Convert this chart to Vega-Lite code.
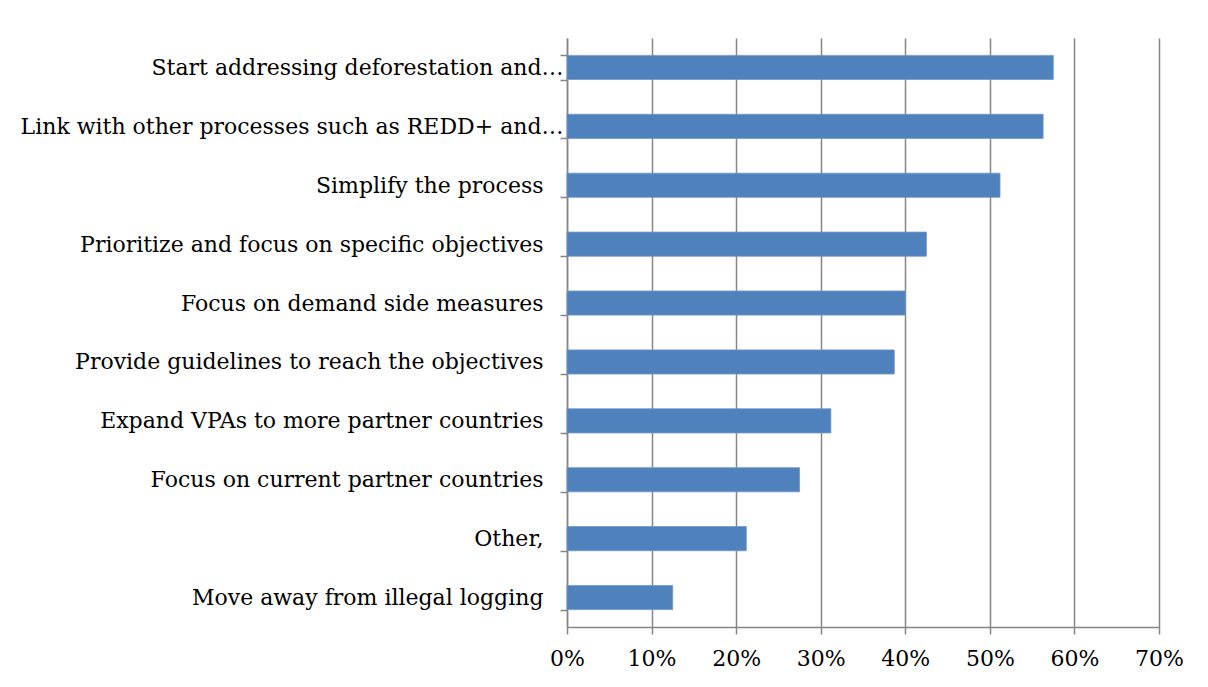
{
  "$schema": "https://vega.github.io/schema/vega-lite/v6.json",
  "width": 592,
  "height": 589,
  "autosize": {"type": "none"},
  "padding": {"left": 567, "top": 38, "right": 49, "bottom": 60},
  "background": "white",
  "config": {
    "view": {"stroke": null},
    "font": "DejaVu Serif"
  },
  "data": {
    "values": [
      {"item": "Start addressing deforestation and…", "share": 0.575},
      {"item": "Link with other processes such as REDD+ and…", "share": 0.563},
      {"item": "Simplify the process", "share": 0.512},
      {"item": "Prioritize and focus on specific objectives", "share": 0.425},
      {"item": "Focus on demand side measures", "share": 0.40},
      {"item": "Provide guidelines to reach the objectives", "share": 0.387},
      {"item": "Expand VPAs to more partner countries", "share": 0.312},
      {"item": "Focus on current partner countries", "share": 0.275},
      {"item": "Other,", "share": 0.212},
      {"item": "Move away from illegal logging", "share": 0.125}
    ]
  },
  "mark": {"type": "bar", "color": "#4F81BD", "stroke": "#6f98c8", "strokeWidth": 0.8},
  "encoding": {
    "y": {
      "field": "item",
      "type": "nominal",
      "sort": null,
      "scale": {"paddingInner": 0.59, "paddingOuter": 0.295},
      "axis": {
        "title": null,
        "tickBand": "extent",
        "domainColor": "#868686",
        "domainWidth": 1.5,
        "tickColor": "#868686",
        "tickWidth": 1.5,
        "tickSize": 7,
        "labelPadding": {"condition": {"test": "indexof(datum.label, '…') >= 0", "value": -3}, "value": 17},
        "labelFont": "DejaVu Serif",
        "labelFontSize": 22,
        "labelColor": "black",
        "labelLimit": 600
      }
    },
    "x": {
      "field": "share",
      "type": "quantitative",
      "scale": {"domain": [0, 0.7], "nice": false},
      "axis": {
        "title": null,
        "format": ".0%",
        "values": [0, 0.1, 0.2, 0.3, 0.4, 0.5, 0.6, 0.7],
        "grid": true,
        "gridColor": "#868686",
        "gridWidth": 1.5,
        "domainColor": "#868686",
        "domainWidth": 1.5,
        "tickColor": "#868686",
        "tickWidth": 1.5,
        "tickSize": 7,
        "labelPadding": 14,
        "labelFont": "DejaVu Serif",
        "labelFontSize": 22,
        "labelColor": "black",
        "labelFlush": false
      }
    }
  }
}
